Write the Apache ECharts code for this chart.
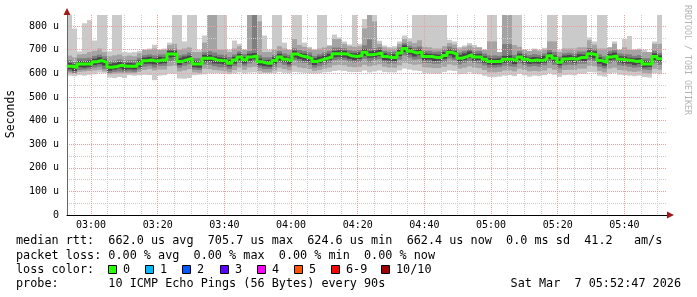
<!DOCTYPE html>
<html>
<head>
<meta charset="utf-8">
<script src="https://cdn.jsdelivr.net/npm/echarts@6/dist/echarts.min.js"></script>
<style>
html,body{margin:0;padding:0;background:#fff;}
#c{width:697px;height:297px;}
</style>
</head>
<body>
<div id="c"></div>
<script>
// ---- time axis (minutes since midnight) ----
const T_START = 172 + 47 / 60;   // 02:52:47
const T_END = 352 + 47 / 60;     // 05:52:47
const STEP_MIN = 1.5;            // 90 s per measurement
const majorTicks = [180, 200, 220, 240, 260, 280, 300, 320, 340];
const minorTicks = [175, 185, 190, 195, 205, 210, 215, 225, 230, 235, 245, 250, 255, 265, 270, 275, 285, 290, 295, 305, 310, 315, 325, 330, 335, 345, 350];
const yMajorTicks = [0, 100, 200, 300, 400, 500, 600, 700, 800];
const yMinorTicks = [50, 150, 250, 350, 450, 550, 650, 750];
const Y_MAX = 847;

// ---- sorted pings per 90 s step (microseconds) ----
const median = [630,625,639,639,640,649,654,646,626,629, 634,630,630,630,641,653,656,651,656,656,
  682,682,650,657,663,639,639,664,664,657, 654,653,643,656,669,657,669,673,649,643,
  643,654,669,660,653,682,674,669,663,650, 657,663,669,683,683,682,674,671,674,689,
  679,682,686,671,667,667,686,705,693,686, 690,671,671,667,667,676,689,682,664,671,
  679,669,669,660,650,650,650,660,660,654, 669,660,653,657,654,660,674,664,647,661,
  663,660,667,667,683,679,654,647,669,674, 660,657,654,650,653,640,640,671,662];

const pingMax = [900,790,693,812,825,739,900,900,693,900, 900,690,688,690,695,700,705,721,700,705,
  730,900,900,735,900,900,700,760,900,900, 900,900,700,739,725,700,900,900,900,760,
  700,900,900,730,700,900,900,730,712,700, 900,900,720,764,752,735,722,900,725,830,
  900,900,738,718,712,715,735,760,748,900, 900,900,900,900,900,900,742,735,712,718,
  728,720,710,700,900,900,690,900,900,900, 900,700,695,705,700,708,900,900,700,900,
  900,900,900,900,752,735,900,900,710,735, 700,745,758,700,705,700,690,735,900];

const ping9 = [675,668,680,682,690,695,705,690,672,676, 680,672,675,672,685,700,700,705,700,700,
  720,725,700,705,710,690,690,730,900,900, 700,700,690,705,715,700,900,900,820,690,
  690,700,715,705,700,745,720,712,705,700, 705,710,715,745,745,725,715,712,715,790,
  900,820,725,710,705,705,725,745,735,728, 740,712,710,705,705,715,728,722,705,710,
  718,710,710,700,735,735,690,900,900,720, 712,700,695,700,695,700,735,735,690,705,
  705,705,710,710,740,722,705,705,710,725, 700,710,700,700,700,690,690,725,725];

const ping8 = [656,649,664,664,666,674,679,672,651,654, 659,654,656,656,666,677,680,676,680,680,
  704,704,676,680,688,664,664,689,694,688, 679,678,669,680,692,682,694,900,676,668,
  668,678,694,684,678,706,699,694,688,674, 681,688,694,709,709,706,698,695,698,719,
  744,706,710,695,691,692,710,728,717,710, 714,695,695,691,692,701,713,706,688,695,
  702,693,694,684,676,676,674,724,724,678, 694,684,677,681,678,684,700,690,671,685,
  687,684,692,692,707,704,680,672,694,699, 684,681,680,674,677,664,664,696,686];

const ping7 = [644,638,653,651,654,662,668,659,639,643, 648,643,644,642,655,667,670,663,670,668,
  696,695,664,671,675,653,651,678,678,672, 668,665,657,670,683,669,683,686,663,655,
  657,668,683,672,667,696,686,683,675,664, 671,675,683,695,697,696,686,685,688,703,
  693,696,700,685,679,681,700,719,707,698, 704,685,683,681,679,690,703,694,678,685,
  693,681,683,672,664,662,664,674,676,666, 683,672,667,669,668,674,688,676,661,675,
  677,672,681,679,697,693,668,659,683,688, 672,671,666,664,665,654,652,685,676];

const ping4 = [617,610,626,624,627,635,639,633,611,616, 621,615,617,616,626,640,641,638,641,643,
  667,669,635,644,648,626,624,649,651,642, 641,638,630,641,656,642,654,660,634,630,
  628,641,654,647,638,667,661,654,650,635, 644,648,656,668,670,667,661,656,661,674,
  666,667,673,656,654,652,673,690,680,671, 677,656,658,652,654,661,676,667,651,656,
  666,654,656,645,637,635,637,645,647,639, 656,645,640,642,641,645,661,649,634,646,
  650,645,654,652,670,664,641,632,656,659, 647,642,641,635,640,625,627,656,649];

const ping3 = [608,602,614,616,618,624,628,618,601,606, 608,606,608,606,616,628,632,624,631,632,
  651,654,624,632,638,616,614,638,636,630, 626,626,618,631,644,632,642,648,624,618,
  618,628,644,636,628,656,646,644,636,624, 630,636,644,656,658,656,648,646,648,661,
  646,656,660,646,641,642,658,676,666,658, 661,644,644,641,641,648,662,656,638,644,
  652,644,642,634,624,624,626,632,630,628, 642,634,628,631,628,634,646,636,621,634,
  636,634,641,641,656,652,628,621,642,648, 634,631,628,624,626,616,614,644,636];

const ping2 = [602,598,606,608,610,612,615,608,596,598, 600,598,600,600,606,614,618,612,616,616,
  630,632,608,612,618,604,602,620,618,614, 612,610,604,614,625,615,625,628,610,604,
  604,612,624,618,612,632,625,622,618,610, 614,620,625,634,636,634,628,626,628,636,
  630,634,638,628,624,624,634,645,640,636, 638,626,624,622,622,628,638,634,620,624,
  630,624,622,614,604,604,606,612,612,608, 620,614,608,610,608,612,622,615,602,614,
  615,614,620,620,632,630,610,604,620,624, 614,612,608,606,608,600,598,620,615];

const pingMin = [590,588,592,590,594,596,603,602,582,580, 584,580,592,590,592,594,593,571,590,592,
  598,597,578,577,580,592,594,596,600,600, 600,598,596,600,604,600,603,604,598,600,
  600,601,606,602,600,606,604,602,600,598, 600,604,606,610,612,610,606,605,606,612,
  604,608,612,606,604,604,612,620,616,612, 610,602,600,598,598,606,612,610,596,598,
  604,598,596,590,585,584,586,590,592,588, 598,592,586,590,588,592,600,594,585,592,
  594,592,598,598,606,604,590,586,598,602, 594,592,590,588,590,584,582,600,596];

// ---- text ----
const legendLines = [
  'median rtt:  662.0 us avg  705.7 us max  624.6 us min  662.4 us now  0.0 ms sd  41.2   am/s',
  'packet loss: 0.00 % avg  0.00 % max  0.00 % min  0.00 % now',
  'loss color:',
  'probe:       10 ICMP Echo Pings (56 Bytes) every 90s'
];
const lossLabels = ['0', '1', '2', '3', '4', '5', '6-9', '10/10'];
const lossColors = ['#26ff00', '#00b8ff', '#0059ff', '#5e00ff', '#ff00ff', '#ff5500', '#ff0000', '#a10000'];
const dateText = 'Sat Mar  7 05:52:47 2026';
const yTitle = 'Seconds';
const watermark = 'RRDTOOL / TOBI OETIKER';

const bandColors = ['#cacaca', '#a4a4a4', '#7e7e7e', '#464646'];
const MONO = '"DejaVu Sans Mono", monospace';

// ---- build data ----
const smokeData = median.map((m, i) => [
  T_START + STEP_MIN * i, T_START + STEP_MIN * (i + 1),
  pingMin[i], ping2[i], ping3[i], ping4[i], ping7[i], ping8[i], ping9[i], pingMax[i]
]);
const medianData = median.map((m, i) => [T_START + STEP_MIN * i, m]);
medianData.push([T_START + STEP_MIN * median.length, median[median.length - 1]]);

function renderSmoke(params, api) {
  const x0 = api.coord([api.value(0), 0])[0];
  const x1 = api.coord([api.value(1), 0])[0];
  const children = [];
  for (let j = 0; j < 4; j++) {
    const lo = Math.min(api.value(2 + j), Y_MAX);
    const hi = Math.min(api.value(9 - j), Y_MAX);
    const yl = api.coord([0, lo])[1];
    const yh = api.coord([0, hi])[1];
    children.push({
      type: 'rect',
      shape: { x: x0, y: yh, width: x1 - x0, height: yl - yh },
      style: { fill: bandColors[j] }
    });
  }
  return { type: 'group', children };
}

function fmtTime(v) {
  const h = Math.floor(v / 60), m = Math.round(v % 60);
  return String(h).padStart(2, '0') + ':' + String(m).padStart(2, '0');
}

const graphics = [];
const lineY = [241, 256, 270, 284];
legendLines.forEach((t, i) => {
  graphics.push({ type: 'text', x: 16, y: lineY[i], style: { text: t, font: '11.8px ' + MONO, fill: '#000', verticalAlign: 'middle', align: 'left' } });
});
const boxX = [108, 145, 182, 220, 257, 294, 331, 381];
lossLabels.forEach((l, i) => {
  graphics.push({ type: 'rect', shape: { x: boxX[i] + 0.5, y: 265.5, width: 8, height: 8 }, style: { fill: lossColors[i], stroke: '#000', lineWidth: 1 } });
  graphics.push({ type: 'text', x: boxX[i] + 15, y: 270, style: { text: l, font: '11.8px ' + MONO, fill: '#000', verticalAlign: 'middle', align: 'left' } });
});
graphics.push({ type: 'text', x: 681, y: 284, style: { text: dateText, font: '11.8px ' + MONO, fill: '#000', verticalAlign: 'middle', align: 'right' } });
graphics.push({ type: 'text', x: 11, y: 114, rotation: Math.PI / 2, style: { text: yTitle, font: '11.5px ' + MONO, fill: '#000', verticalAlign: 'middle', align: 'center' } });
graphics.push({ type: 'text', x: 687, y: 60, rotation: -Math.PI / 2, style: { text: watermark, font: '8.3px ' + MONO, fill: '#b4b4b4', verticalAlign: 'middle', align: 'center' } });

const chart = echarts.init(document.getElementById('c'), null, { renderer: 'canvas' });
chart.setOption({
  animation: false,
  backgroundColor: '#ffffff',
  grid: { left: 67, right: 30, top: 15, bottom: 82, containLabel: false },
  xAxis: [
    {
      type: 'value', min: T_START, max: T_END, z: 3,
      axisLine: { show: true, onZero: false, lineStyle: { color: '#000', width: 1 }, symbol: ['none', 'none'] },
      axisTick: { show: false, customValues: majorTicks },
      axisLabel: { customValues: majorTicks, formatter: fmtTime, fontFamily: MONO, fontSize: 10, color: '#000', margin: 5 },
      splitLine: { show: true, lineStyle: { color: '#e8a0a0', type: 'dotted', width: 1 } }
    },
    {
      type: 'value', min: T_START, max: T_END, z: 2.5, position: 'bottom',
      axisLine: { show: false }, axisTick: { show: false, customValues: minorTicks },
      axisLabel: { show: false, customValues: minorTicks },
      splitLine: { show: true, lineStyle: { color: '#cccccc', type: 'dotted', width: 1 } }
    }
  ],
  yAxis: [
    {
      type: 'value', min: 0, max: Y_MAX, z: 3,
      axisLine: { show: true, onZero: false, lineStyle: { color: '#666', width: 1 } },
      axisTick: { show: false, customValues: yMajorTicks },
      axisLabel: { customValues: yMajorTicks, formatter: v => v === 0 ? '0' : v + ' u', fontFamily: MONO, fontSize: 10, color: '#000', margin: 8 },
      splitLine: { show: true, lineStyle: { color: '#e8a0a0', type: 'dotted', width: 1 } }
    },
    {
      type: 'value', min: 0, max: Y_MAX, z: 2.5,
      axisLine: { show: false }, axisTick: { show: false, customValues: yMinorTicks },
      axisLabel: { show: false, customValues: yMinorTicks },
      splitLine: { show: true, lineStyle: { color: '#cccccc', type: 'dotted', width: 1 } }
    }
  ],
  series: [
    {
      type: 'custom', renderItem: renderSmoke, data: smokeData, z: 1,
      encode: { x: [0, 1], y: [2, 9] }, clip: true, silent: true
    },
    {
      type: 'line', data: medianData, step: 'end', symbol: 'none', z: 5,
      lineStyle: { color: '#26ff00', width: 3 }, silent: true
    }
  ],
  graphic: graphics.concat([
    { type: 'polygon', shape: { points: [[63.5, 15], [70.5, 15], [67, 8]] }, style: { fill: '#a01818' }, z: 10 },
    { type: 'polygon', shape: { points: [[667, 211.5], [667, 218.5], [674, 215]] }, style: { fill: '#a01818' }, z: 10 },
    { type: 'rect', shape: { x: 667, y: 214.5, width: 1, height: 1 }, style: { fill: '#000' }, z: 9 }
  ])
});
</script>
</body>
</html>
